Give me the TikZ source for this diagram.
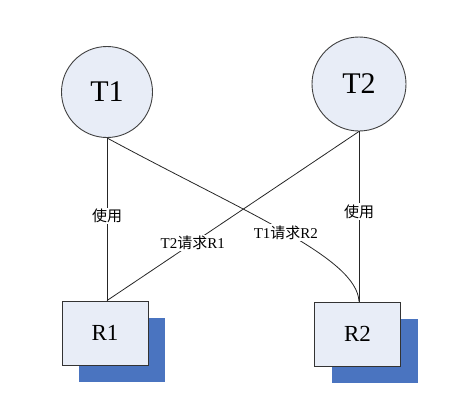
\documentclass[tikz,border=0pt]{standalone}
\usepackage{fontspec}
\setmainfont{Liberation Serif}
\newfontfamily\cjk{Noto Sans CJK SC}
\usepackage{tikz}
\usetikzlibrary{positioning,shapes,shadows}
\definecolor{paleblue}{HTML}{E8EDF7}
\definecolor{shadowblue}{HTML}{4A74C0}

\begin{document}
\begin{tikzpicture}
[x=1pt,y=-1pt,
   task/.style={circle,draw=black!75,fill=paleblue,line width=0.9pt,font=\fontsize{30}{34}\selectfont},
   res/.style={rectangle,draw=black!80,fill=paleblue,line width=0.9pt,minimum width=86pt,minimum height=64pt,
      font=\fontsize{23}{26}\selectfont,
      drop shadow={shadow xshift=17pt,shadow yshift=-17pt,fill=shadowblue,opacity=1}},
   lbl/.style={fill=white,inner sep=1.5pt,font=\fontsize{15}{17}\selectfont},
   wire/.style={draw=black!85,line width=0.8pt}]
\useasboundingbox (0,0) rectangle (470,418);
\node[task,minimum size=91pt] (t1) at (107,92) {T1};
\node[task,minimum size=94pt] (t2) at (359,84) {T2};
\node[res] (r1) at (105,333) {R1};
\node[res] (r2) at (357.5,334) {R2};
% edges
\draw[wire] (t1.south) -- (r1.north -| t1.south) node[lbl,pos=0.48] (use1) {\cjk 使用};
\draw[wire] (t2.south) -- (r2.north -| t2.south) node[lbl,pos=0.47] (use2) {\cjk 使用};
\draw[wire] (t2.south) -- (r1.north -| t1.south) node[lbl,pos=0.66] (req1) {T2{\cjk 请求}R1};
\draw[wire] (t1.south) .. controls (250,215) and (357,258) .. (r2.north -| t2.south)
   node[lbl,pos=0.5] (req2) {T1{\cjk 请求}R2};
\end{tikzpicture}
\end{document}
